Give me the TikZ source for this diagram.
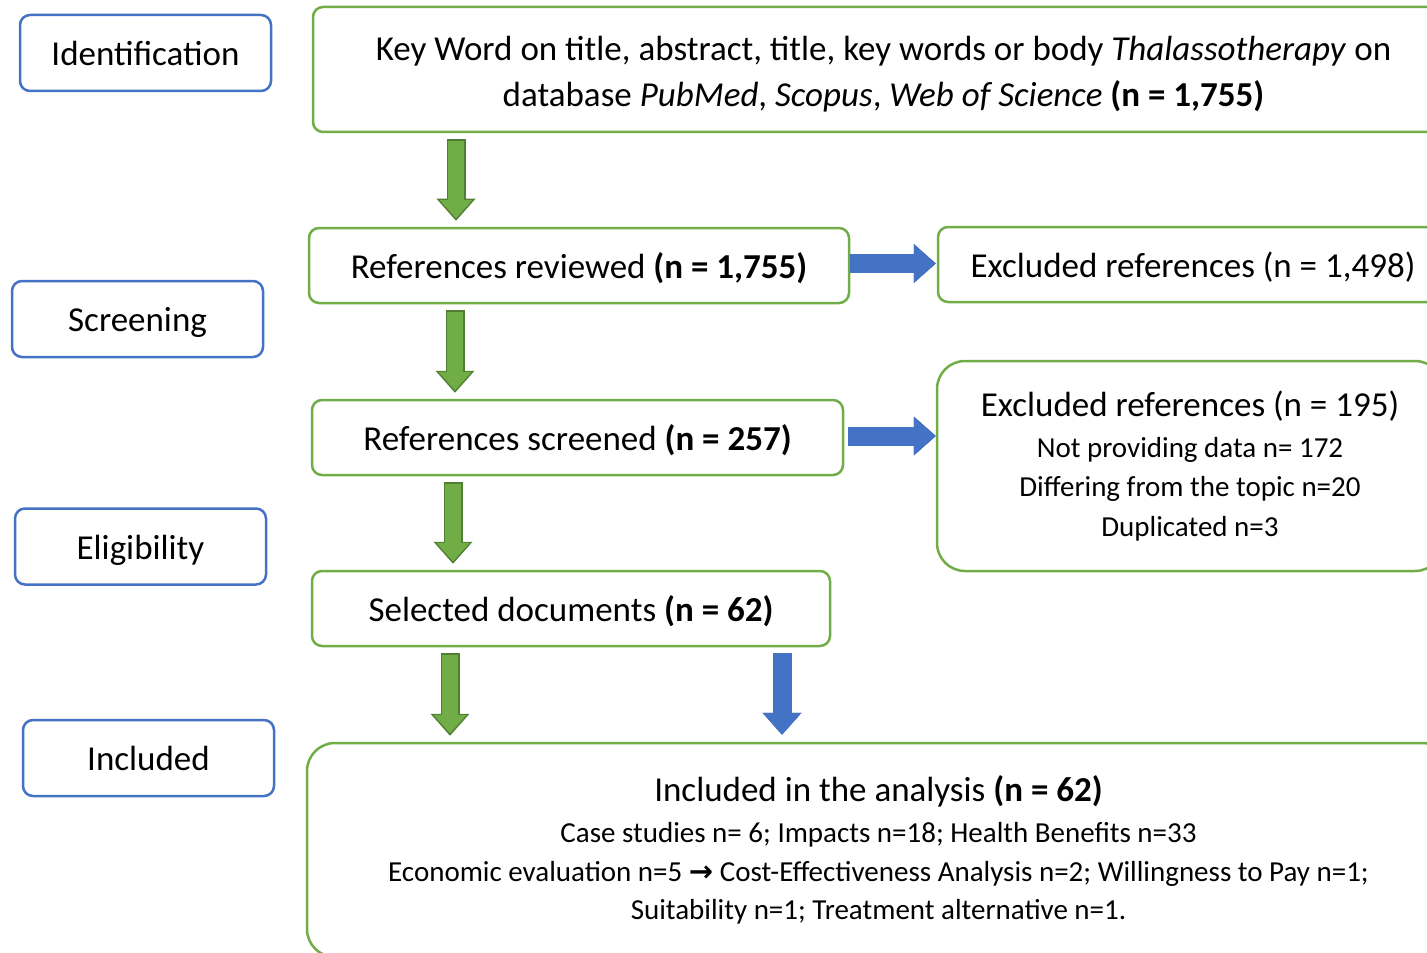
\documentclass[tikz,border=0pt]{standalone}
\usepackage{fontspec}
\setmainfont{Carlito}
\newfontfamily\arrowfont{DejaVu Sans}
\usepackage{tikz}
\usetikzlibrary{arrows.meta}

\definecolor{boxgreen}{RGB}{112,173,71}
\definecolor{boxblue}{RGB}{68,114,196}
\definecolor{gline}{RGB}{80,126,50}
\definecolor{bline}{RGB}{47,82,143}

\tikzset{
	stage/.style={draw=boxblue,line width=1.25pt,rounded corners=5pt,minimum width=125.5pt,minimum height=38pt,text height=12.5pt,text depth=0pt},
	frame/.style={draw=boxgreen,line width=1.25pt,rounded corners=5pt},
	flow/.style={frame,minimum height=37.5pt,text height=12.5pt,text depth=0pt},
	bigflow/.style={frame,rounded corners=14pt,align=center},
	garrow/.style={line width=9.5pt,draw=gline,-{Triangle[width=19.5pt,length=11pt,line width=0pt]},
		postaction={draw=boxgreen,line width=8pt,shorten <=0.75pt,shorten >=1.2pt,-{Triangle[width=16.5pt,length=9.2pt,line width=0pt]}}},
	barrow/.style={garrow,draw=bline,postaction={draw=boxblue}},
}

\begin{document}
\begin{tikzpicture}[x=0.5pt,y=-0.5pt,font=\fontsize{17.5}{23}\selectfont]
	\useasboundingbox (0,0) rectangle (1427,952);
	
	\node (ident) [stage] at (145.5,53) {Identification};
	\node (screen) [stage] at (137.5,319) {Screening};
	\node (elig) [stage] at (140.5,546.5) {Eligibility};
	\node (incl) [stage] at (148.5,758) {Included};
	
	\node (key) [frame,minimum width=570.5pt,minimum height=62.5pt,align=center] at (883.5,69.5)
		{\rule{0pt}{16.6pt}Key Word on title, abstract, title, key words or body \textit{Thalassotherapy} on\\
		database \textit{PubMed}, \textit{Scopus}, \textit{Web of Science} \textbf{(n = 1,755)}};
	\node (rev) [flow,minimum width=270pt] at (579,265.5) {References reviewed \textbf{(n = 1,755)}};
	\node (exc1) [flow,minimum width=255pt] at (1193,264.5) {Excluded references (n = 1,498)};
	\node (scr) [flow,minimum width=265.5pt] at (577.5,437.5) {References screened \textbf{(n = 257)}};
	\node (exc2) [bigflow,minimum width=253pt,minimum height=105pt,
		font=\fontsize{14.5}{19.75}\selectfont] at (1190,466)
		{{\fontsize{17.5}{21}\selectfont Excluded references (n = 195)}\\[0.6pt]
		Not providing data n= 172\\ Differing from the topic n=20\\ Duplicated n=3};
	\node (sel) [flow,minimum width=259pt] at (571,608.5) {Selected documents \textbf{(n = 62)}};
	\node (inc) [bigflow,minimum width=571.5pt,minimum height=107pt,
		font=\fontsize{14.5}{19.3}\selectfont] at (878.5,850)
		{{\fontsize{17.5}{21}\selectfont Included in the analysis \textbf{(n = 62)}}\\[1.3pt]
		Case studies n= 6; Impacts n=18; Health Benefits n=33\\
		Economic evaluation n=5 {\arrowfont\bfseries →} Cost-Effectiveness Analysis n=2; Willingness to Pay n=1;\\
		Suitability n=1; Treatment alternative n=1.};
	
	\foreach \a/\b/\x in {key/rev/456,rev/scr/455,scr/sel/453,sel/inc/450}
		\draw [garrow] ([yshift=-3pt]\a.south -| \x,0) -- ([yshift=3pt]\b.north -| \x,0);
	\draw [barrow] ([yshift=-3pt]sel.south -| 782,0) -- ([yshift=3.5pt]inc.north -| 782,0);
	\draw [barrow] ([yshift=1pt]rev.east) -- ([xshift=-0.5pt,yshift=1pt]exc1.west |- rev.east);
	\draw [barrow] ([xshift=2pt,yshift=0.75pt]scr.east) -- ([yshift=0.75pt]exc2.west |- scr.east);
	
\end{tikzpicture}
\end{document}
